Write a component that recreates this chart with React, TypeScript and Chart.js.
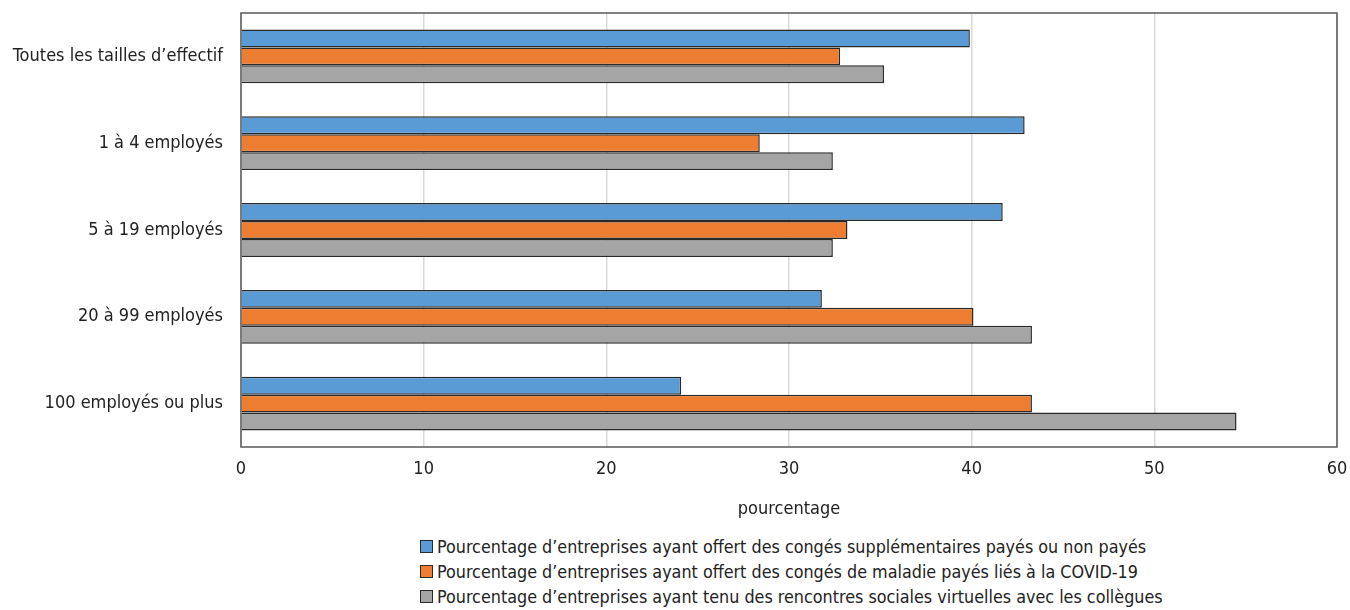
import React, { useEffect, useRef } from "react";
import { Chart, registerables } from "chart.js";

Chart.register(...registerables);

const categories = [
  "Toutes les tailles d’effectif",
  "1 à 4 employés",
  "5 à 19 employés",
  "20 à 99 employés",
  "100 employés ou plus",
];

const seriesLabels = [
  "Pourcentage d’entreprises ayant offert des congés supplémentaires payés ou non payés",
  "Pourcentage d’entreprises ayant offert des congés de maladie payés liés à la COVID-19",
  "Pourcentage d’entreprises ayant tenu des rencontres sociales virtuelles avec les collègues",
];

const congesSupplementaires = [39.9, 42.9, 41.7, 31.8, 24.1];
const congesMaladieCovid = [32.8, 28.4, 33.2, 40.1, 43.3];
const rencontresVirtuelles = [35.2, 32.4, 32.4, 43.3, 54.5];

const xTicks = [0, 10, 20, 30, 40, 50, 60];
const axisTitle = "pourcentage";

const colors = ["#5b9bd5", "#ed7d31", "#a5a5a5"];
const FONT = "'DejaVu Sans Condensed', 'Liberation Sans Narrow', sans-serif";
const FONT_SIZE = 18;
const LEGEND_FONT_SIZE = 17.8;

const framePlugin = {
  id: "frame",
  afterDatasetsDraw(chart: any) {
    const { ctx, chartArea } = chart;
    ctx.save();
    ctx.strokeStyle = "#595959";
    ctx.lineWidth = 1.5;
    ctx.strokeRect(chartArea.left, chartArea.top, chartArea.right - chartArea.left, chartArea.bottom - chartArea.top);
    ctx.restore();
  },
};

export default function App() {
  const ref = useRef<HTMLCanvasElement | null>(null);

  useEffect(() => {
    if (!ref.current) return;
    const data = [congesSupplementaires, congesMaladieCovid, rencontresVirtuelles];
    const chart = new Chart(ref.current, {
      type: "bar",
      data: {
        labels: categories,
        datasets: data.map((d, i) => ({
          label: seriesLabels[i],
          data: d,
          backgroundColor: colors[i],
          borderColor: "#2a2a2a",
          borderWidth: 1.5,
          categoryPercentage: 0.62,
          barPercentage: 1.0,
        })),
      },
      options: {
        indexAxis: "y",
        animation: false,
        responsive: false,
        layout: { padding: { top: 13, right: 13, left: 0, bottom: 0 } },
        plugins: {
          legend: { display: false },
          tooltip: { enabled: false },
        },
        scales: {
          x: {
            min: 0,
            max: 60,
            afterBuildTicks: (scale: any) => {
              scale.ticks = xTicks.map((v) => ({ value: v }));
            },
            afterFit: (scale: any) => {
              scale.height = 83;
              scale.paddingLeft = 0;
              scale.paddingRight = 0;
            },
            grid: { color: "#d9d9d9", lineWidth: 1.5, drawTicks: false },
            border: { display: false },
            ticks: {
              color: "#222",
              padding: 12,
              font: { family: FONT, size: FONT_SIZE },
            },
            title: {
              display: true,
              text: axisTitle,
              color: "#222",
              font: { family: FONT, size: FONT_SIZE },
              padding: { top: 0, bottom: 10 },
            },
          },
          y: {
            afterFit: (scale: any) => {
              scale.width = 241;
              scale.paddingTop = 0;
              scale.paddingBottom = 0;
            },
            grid: { display: false, drawTicks: false },
            border: { display: false },
            ticks: {
              color: "#222",
              padding: 18,
              font: { family: FONT, size: FONT_SIZE },
            },
          },
        },
      },
      plugins: [framePlugin],
    } as any);
    return () => chart.destroy();
  }, []);

  return (
    <div
      style={{
        position: "fixed",
        left: 0,
        top: 0,
        width: 1350,
        height: 610,
        background: "#fff",
      }}
    >
      <canvas ref={ref} width={1350} height={530} style={{ display: "block" }} />
      <div
        style={{
          position: "absolute",
          left: 420,
          top: 534,
          fontFamily: FONT,
          fontSize: LEGEND_FONT_SIZE,
          color: "#222",
          lineHeight: "25px",
        }}
      >
        {seriesLabels.map((l, i) => (
          <div key={i} style={{ display: "flex", alignItems: "center", whiteSpace: "nowrap", height: 25 }}>
            <span
              style={{
                display: "inline-block",
                width: 11,
                height: 11,
                background: colors[i],
                border: "1px solid #2a2a2a",
                marginRight: 4,
              }}
            />
            <span>{l}</span>
          </div>
        ))}
      </div>
    </div>
  );
}
